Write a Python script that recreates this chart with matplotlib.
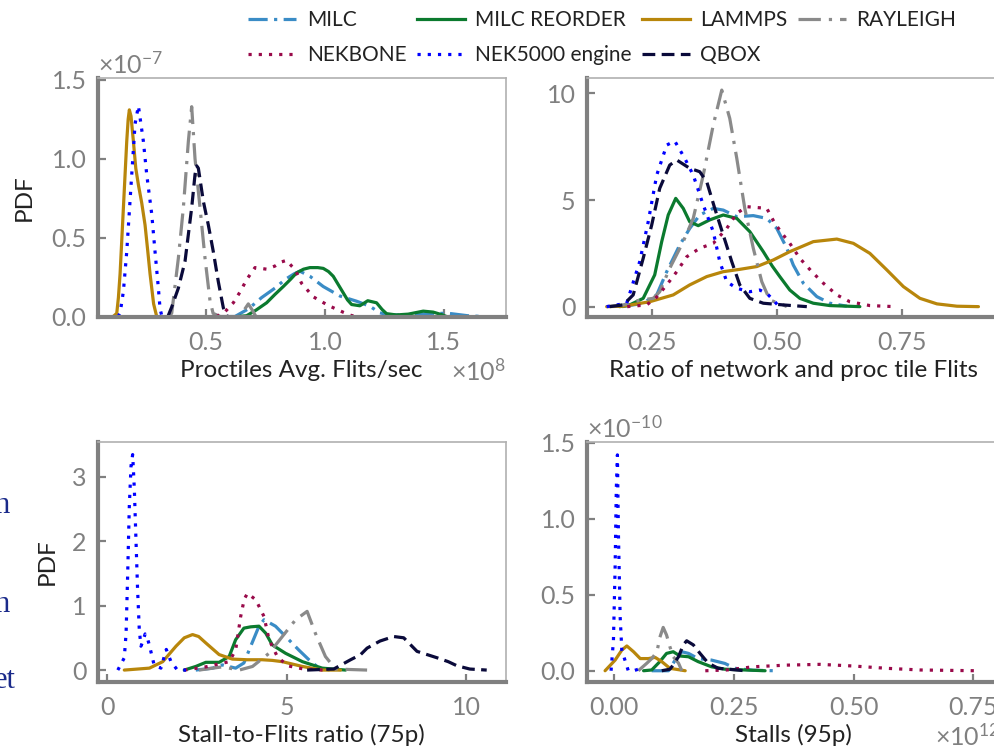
import matplotlib
matplotlib.use("Agg")
import matplotlib.pyplot as plt
from matplotlib.ticker import ScalarFormatter
from matplotlib.lines import Line2D

plt.rcParams['font.family'] = ['Lato', 'DejaVu Sans']
plt.rcParams['mathtext.fontset'] = 'custom'
plt.rcParams['mathtext.rm'] = 'Lato'
plt.rcParams['mathtext.it'] = 'Lato'
plt.rcParams['mathtext.default'] = 'regular'

# ---------------- series names & styles ----------------
series = ["MILC", "MILC REORDER", "LAMMPS", "RAYLEIGH", "NEKBONE", "NEK5000 engine", "QBOX"]
colors = {"MILC": "#3a8cc6", "MILC REORDER": "#0b7a2e", "LAMMPS": "#b8860b",
          "RAYLEIGH": "#8a8a8a", "NEKBONE": "#990a4a", "NEK5000 engine": "#0000ff",
          "QBOX": "#0a0a3a"}
styles = {"MILC": (0, (6, 2, 1, 2)), "MILC REORDER": "-", "LAMMPS": "-",
          "RAYLEIGH": (0, (7, 2.5, 1, 2.5)), "NEKBONE": (0, (1, 2.2)),
          "NEK5000 engine": (0, (1, 2.2)), "QBOX": (0, (4, 2))}

# ---------------- panel 1: Proctiles Avg. Flits/sec (x in 1e8, y in 1e-7) ----------------
p1_milc_x = [0.60, 0.622, 0.68, 0.734, 0.79, 0.832, 0.87, 0.895, 0.937, 0.993, 1.063, 1.133, 1.189, 1.231, 1.273, 1.35, 1.45, 1.52, 1.6, 1.66]
p1_milc_y = [0, 0.0, 0.05, 0.12, 0.18, 0.234, 0.27, 0.287, 0.255, 0.19, 0.13, 0.097, 0.065, 0.023, 0.01, 0.01, 0.02, 0.02, 0.005, 0]
p1_reorder_x = [0.636, 0.671, 0.71, 0.755, 0.79, 0.825, 0.855, 0.881, 0.91, 0.937, 0.97, 0.993, 1.015, 1.035, 1.055, 1.077, 1.095, 1.112, 1.147, 1.18, 1.217, 1.24, 1.259, 1.3, 1.35, 1.413, 1.455, 1.49, 1.511]
p1_reorder_y = [0, 0.005, 0.04, 0.087, 0.14, 0.19, 0.235, 0.277, 0.30, 0.31, 0.31, 0.305, 0.285, 0.255, 0.205, 0.15, 0.105, 0.076, 0.068, 0.10, 0.087, 0.045, 0.018, 0.01, 0.015, 0.034, 0.028, 0.012, 0]
p1_lammps_x = [0.11, 0.125, 0.132, 0.139, 0.153, 0.167, 0.173, 0.178, 0.185, 0.195, 0.205, 0.216, 0.23, 0.244, 0.255, 0.265, 0.28, 0.293]
p1_lammps_y = [0, 0.02, 0.12, 0.27, 0.69, 1.11, 1.25, 1.31, 1.27, 1.11, 0.94, 0.835, 0.72, 0.58, 0.42, 0.27, 0.08, 0]
p1_rayleigh_x = [0.34, 0.356, 0.384, 0.405, 0.426, 0.44, 0.454, 0.475, 0.496, 0.517, 0.53, 0.56, 0.6, 0.643, 0.66, 0.678, 0.695, 0.71]
p1_rayleigh_y = [0, 0.02, 0.37, 0.69, 1.11, 1.33, 1.0, 0.69, 0.37, 0.1, 0.02, 0, 0, 0, 0.04, 0.08, 0.04, 0]
p1_nekbone_x = [0.545, 0.58, 0.615, 0.645, 0.671, 0.706, 0.73, 0.755, 0.79, 0.815, 0.839, 0.86, 0.874, 0.902, 0.951, 1.014, 1.077, 1.112, 1.14]
p1_nekbone_y = [0, 0.03, 0.087, 0.16, 0.234, 0.31, 0.305, 0.30, 0.32, 0.345, 0.356, 0.32, 0.30, 0.21, 0.125, 0.07, 0.027, 0.006, 0]
p1_nek5000_x = [0.13, 0.139, 0.153, 0.167, 0.188, 0.202, 0.216, 0.237, 0.251, 0.272, 0.286, 0.3, 0.307, 0.315]
p1_nek5000_y = [0, 0.02, 0.16, 0.41, 0.9, 1.22, 1.335, 1.11, 0.9, 0.65, 0.41, 0.18, 0.05, 0]
p1_qbox_x = [0.34, 0.356, 0.384, 0.412, 0.44, 0.454, 0.461, 0.468, 0.489, 0.51, 0.531, 0.552, 0.573, 0.59]
p1_qbox_y = [0, 0.06, 0.18, 0.35, 0.69, 0.9, 0.955, 0.94, 0.73, 0.58, 0.41, 0.22, 0.055, 0]

# ---------------- panel 2: Ratio of network and proc tile Flits ----------------
p2_milc_x = [0.19, 0.23, 0.259, 0.279, 0.305, 0.325, 0.345, 0.372, 0.392, 0.419, 0.452, 0.479, 0.499, 0.519, 0.532, 0.552, 0.579, 0.605, 0.639]
p2_milc_y = [0, 0.15, 0.55, 1.64, 2.89, 3.67, 4.3, 4.61, 4.53, 4.22, 4.27, 4.14, 3.67, 2.74, 1.95, 1.1, 0.47, 0.16, 0.02]
p2_reorder_x = [0.185, 0.205, 0.232, 0.255, 0.269, 0.282, 0.297, 0.312, 0.325, 0.342, 0.365, 0.392, 0.419, 0.445, 0.472, 0.49, 0.505, 0.525, 0.545, 0.572, 0.605, 0.665]
p2_reorder_y = [0, 0.08, 0.39, 1.49, 3.05, 4.3, 5.08, 4.61, 3.98, 3.8, 4.07, 4.3, 4.14, 3.52, 2.58, 1.9, 1.41, 0.78, 0.39, 0.16, 0.05, 0]
p2_lammps_x = [0.159, 0.192, 0.245, 0.292, 0.325, 0.359, 0.392, 0.425, 0.459, 0.492, 0.525, 0.572, 0.619, 0.652, 0.685, 0.719, 0.752, 0.785, 0.819, 0.859, 0.902]
p2_lammps_y = [0, 0.02, 0.23, 0.55, 1.02, 1.41, 1.64, 1.75, 1.88, 2.19, 2.58, 3.05, 3.17, 2.97, 2.5, 1.72, 0.94, 0.39, 0.13, 0.02, 0]
p2_rayleigh_x = [0.159, 0.192, 0.225, 0.252, 0.265, 0.285, 0.312, 0.332, 0.352, 0.372, 0.389, 0.405, 0.419, 0.435, 0.452, 0.469, 0.485, 0.512, 0.519]
p2_rayleigh_y = [0, 0.08, 0.3, 0.39, 0.7, 1.8, 3.05, 4.14, 6.17, 8.52, 10.16, 8.83, 6.96, 4.61, 2.74, 1.17, 0.31, 0.08, 0]
p2_nekbone_x = [0.2, 0.239, 0.259, 0.279, 0.299, 0.319, 0.345, 0.372, 0.399, 0.419, 0.439, 0.459, 0.479, 0.495, 0.512, 0.525, 0.545, 0.569, 0.592, 0.619, 0.645, 0.685, 0.735]
p2_nekbone_y = [0, 0.08, 0.45, 1.02, 1.64, 2.34, 2.74, 2.97, 3.67, 4.38, 4.69, 4.65, 4.61, 3.91, 3.36, 2.97, 2.27, 1.64, 1.1, 0.55, 0.23, 0.05, 0]
p2_nek5000_x = [0.159, 0.199, 0.225, 0.242, 0.259, 0.279, 0.295, 0.315, 0.332, 0.352, 0.372, 0.385, 0.399, 0.419, 0.445, 0.465, 0.48, 0.492, 0.5]
p2_nek5000_y = [0, 0.16, 2.11, 3.98, 6.17, 7.58, 7.77, 6.96, 6.17, 4.77, 3.52, 2.11, 1.17, 0.86, 0.7, 0.78, 0.6, 0.31, 0.1]
p2_qbox_x = [0.165, 0.192, 0.212, 0.232, 0.249, 0.265, 0.285, 0.299, 0.325, 0.345, 0.359, 0.375, 0.392, 0.409, 0.425, 0.445, 0.472, 0.512, 0.559]
p2_qbox_y = [0, 0.08, 0.55, 2.27, 3.83, 5.55, 6.64, 6.88, 6.49, 6.33, 5.86, 4.61, 3.36, 2.11, 1.02, 0.39, 0.16, 0.08, 0]

# ---------------- panel 3: Stall-to-Flits ratio (75p) ----------------
p3_milc_x = [2.47, 2.94, 3.21, 3.58, 3.81, 4.0, 4.23, 4.37, 4.69, 5.06, 5.34, 5.62, 5.9, 6.2]
p3_milc_y = [0, 0.03, 0.08, 0.03, 0.11, 0.37, 0.68, 0.78, 0.68, 0.47, 0.31, 0.16, 0.03, 0]
p3_reorder_x = [2.15, 2.47, 2.75, 3.12, 3.4, 3.58, 3.81, 4.0, 4.23, 4.42, 4.6, 4.97, 5.44, 5.99, 6.64]
p3_reorder_y = [0, 0.056, 0.12, 0.12, 0.21, 0.47, 0.65, 0.67, 0.68, 0.57, 0.39, 0.26, 0.13, 0.03, 0]
p3_lammps_x = [0.48, 1.18, 1.55, 1.92, 2.15, 2.38, 2.55, 2.75, 3.12, 3.49, 3.9, 4.32, 4.6, 4.88, 5.44, 5.99, 6.5]
p3_lammps_y = [0, 0.03, 0.13, 0.37, 0.5, 0.55, 0.52, 0.42, 0.24, 0.17, 0.16, 0.16, 0.15, 0.13, 0.056, 0.0, 0]
p3_rayleigh_x = [2.56, 3.21, 3.68, 4.05, 4.51, 4.88, 5.25, 5.57, 5.8, 6.08, 6.36, 7.24]
p3_rayleigh_y = [0, 0.05, 0.0, 0.056, 0.26, 0.52, 0.78, 0.91, 0.57, 0.21, 0.016, 0]
p3_nekbone_x = [2.15, 2.75, 3.4, 3.58, 3.72, 3.82, 3.91, 4.14, 4.37, 4.51, 4.74, 5.02, 5.44, 6.0]
p3_nekbone_y = [0, 0.05, 0.13, 0.31, 0.83, 1.1, 1.19, 1.09, 0.83, 0.47, 0.21, 0.067, 0.02, 0]
p3_nek5000_x = [0.3, 0.48, 0.53, 0.575, 0.62, 0.667, 0.713, 0.76, 0.805, 0.85, 0.898, 0.944, 1.0, 1.06, 1.12, 1.176, 1.31, 1.5, 1.65, 1.78, 1.96, 2.2]
p3_nek5000_y = [0, 0.19, 0.57, 1.5, 2.54, 3.16, 3.34, 2.8, 2.02, 1.25, 0.62, 0.37, 0.45, 0.56, 0.5, 0.39, 0.08, 0.03, 0.32, 0.13, 0, 0]
p3_qbox_x = [5.57, 6.31, 6.78, 7.06, 7.24, 7.6, 7.98, 8.26, 8.63, 9.19, 9.5, 9.74, 10.1, 10.57]
p3_qbox_y = [0, 0.016, 0.16, 0.24, 0.34, 0.45, 0.52, 0.5, 0.29, 0.19, 0.13, 0.067, 0.016, 0]

# ---------------- panel 4: Stalls (95p) (x in 1e12, y in 1e-10) ----------------
p4_milc_x = [0.078, 0.113, 0.127, 0.141, 0.155, 0.175, 0.203, 0.231, 0.252, 0.29, 0.336]
p4_milc_y = [0, 0.0, 0.07, 0.125, 0.114, 0.08, 0.07, 0.048, 0.016, 0.003, 0]
p4_reorder_x = [0.061, 0.078, 0.095, 0.109, 0.123, 0.137, 0.155, 0.175, 0.203, 0.231, 0.315]
p4_reorder_y = [0, 0.005, 0.06, 0.114, 0.125, 0.097, 0.092, 0.06, 0.026, 0.01, 0]
p4_lammps_x = [-0.0195, 0.0015, 0.0155, 0.026, 0.04, 0.054, 0.071, 0.085, 0.099, 0.116, 0.148]
p4_lammps_y = [0, 0.07, 0.136, 0.163, 0.125, 0.08, 0.08, 0.088, 0.06, 0.016, 0]
p4_rayleigh_x = [0.05, 0.068, 0.078, 0.089, 0.095, 0.102, 0.109, 0.116, 0.123, 0.134, 0.141]
p4_rayleigh_y = [0, 0.05, 0.08, 0.125, 0.22, 0.285, 0.235, 0.158, 0.092, 0.05, 0]
p4_nekbone_x = [0.19, 0.235, 0.29, 0.36, 0.43, 0.5, 0.569, 0.639, 0.757]
p4_nekbone_y = [0, 0.005, 0.026, 0.037, 0.042, 0.031, 0.016, 0.005, 0]
p4_nek5000_x = [-0.007, -0.002, 0.0015, 0.004, 0.0063, 0.0084, 0.012, 0.0155, 0.022, 0.029, 0.04, 0.05, 0.06]
p4_nek5000_y = [0, 0.2, 0.68, 1.2, 1.42, 0.9, 0.355, 0.136, 0.07, 0.0, 0.0, 0.01, 0]
p4_qbox_x = [0.099, 0.116, 0.12, 0.134, 0.144, 0.151, 0.165, 0.179, 0.196, 0.217, 0.273]
p4_qbox_y = [0, 0.01, 0.026, 0.092, 0.17, 0.197, 0.17, 0.114, 0.05, 0.016, 0]

x_labels = ["Proctiles Avg. Flits/sec", "Ratio of network and proc tile Flits",
            "Stall-to-Flits ratio (75p)", "Stalls (95p)"]
x_orders = [8, 0, 0, 12]
y_orders = [-7, 0, 0, -10]
x_formats = ["%1.1f", "%1.2f", "%d", "%1.2f"]
y_formats = ["%1.1f", "%d", "%d", "%1.1f"]
x_ticks = [[0.5, 1.0, 1.5], [0.25, 0.50, 0.75], [0, 5, 10], [0.00, 0.25, 0.50, 0.75]]
y_ticks = [[0.0, 0.5, 1.0, 1.5], [0, 5, 10], [0, 1, 2, 3], [0.0, 0.5, 1.0, 1.5]]
x_lims = [(0.045, 1.76), (0.119, 0.945), (-0.26, 11.1), (-0.058, 0.806)]
y_lims = [(-0.005, 1.515), (-0.5, 10.75), (-0.18, 3.54), (-0.072, 1.507)]

panels = [
    {"MILC": (p1_milc_x, p1_milc_y), "MILC REORDER": (p1_reorder_x, p1_reorder_y),
     "LAMMPS": (p1_lammps_x, p1_lammps_y), "RAYLEIGH": (p1_rayleigh_x, p1_rayleigh_y),
     "NEKBONE": (p1_nekbone_x, p1_nekbone_y), "NEK5000 engine": (p1_nek5000_x, p1_nek5000_y),
     "QBOX": (p1_qbox_x, p1_qbox_y)},
    {"MILC": (p2_milc_x, p2_milc_y), "MILC REORDER": (p2_reorder_x, p2_reorder_y),
     "LAMMPS": (p2_lammps_x, p2_lammps_y), "RAYLEIGH": (p2_rayleigh_x, p2_rayleigh_y),
     "NEKBONE": (p2_nekbone_x, p2_nekbone_y), "NEK5000 engine": (p2_nek5000_x, p2_nek5000_y),
     "QBOX": (p2_qbox_x, p2_qbox_y)},
    {"MILC": (p3_milc_x, p3_milc_y), "MILC REORDER": (p3_reorder_x, p3_reorder_y),
     "LAMMPS": (p3_lammps_x, p3_lammps_y), "RAYLEIGH": (p3_rayleigh_x, p3_rayleigh_y),
     "NEKBONE": (p3_nekbone_x, p3_nekbone_y), "NEK5000 engine": (p3_nek5000_x, p3_nek5000_y),
     "QBOX": (p3_qbox_x, p3_qbox_y)},
    {"MILC": (p4_milc_x, p4_milc_y), "MILC REORDER": (p4_reorder_x, p4_reorder_y),
     "LAMMPS": (p4_lammps_x, p4_lammps_y), "RAYLEIGH": (p4_rayleigh_x, p4_rayleigh_y),
     "NEKBONE": (p4_nekbone_x, p4_nekbone_y), "NEK5000 engine": (p4_nek5000_x, p4_nek5000_y),
     "QBOX": (p4_qbox_x, p4_qbox_y)},
]

positions = [[0.0983, 0.5775, 0.4105, 0.3193], [0.5902, 0.5775, 0.4158, 0.3193],
             [0.0983, 0.0923, 0.4105, 0.3196], [0.5902, 0.0923, 0.4158, 0.3196]]
ylabel_x = [-0.154, None, -0.097, None]


class FixedOrderFormatter(ScalarFormatter):
    def __init__(self, order, fmt):
        super().__init__(useMathText=True, useOffset=False)
        self._fixed_order = order
        self._fixed_fmt = fmt

    def _set_order_of_magnitude(self):
        self.orderOfMagnitude = self._fixed_order

    def _set_format(self):
        self.format = self._fixed_fmt


GREY = "#808080"
DARK = "#222222"
fig = plt.figure(figsize=(9.94, 7.51), dpi=100)

for i, data in enumerate(panels):
    ax = fig.add_axes(positions[i])
    xs, ys = 10.0 ** x_orders[i], 10.0 ** y_orders[i]
    for name in series:
        x, y = data[name]
        ax.plot([v * xs for v in x], [v * ys for v in y], color=colors[name],
                linestyle=styles[name], lw=2.3, label=name, solid_capstyle='round')
    ax.set_xlim(x_lims[i][0] * xs, x_lims[i][1] * xs)
    ax.set_ylim(y_lims[i][0] * ys, y_lims[i][1] * ys)
    ax.set_xticks([t * xs for t in x_ticks[i]])
    ax.set_yticks([t * ys for t in y_ticks[i]])
    ax.xaxis.set_major_formatter(FixedOrderFormatter(x_orders[i], x_formats[i]))
    ax.yaxis.set_major_formatter(FixedOrderFormatter(y_orders[i], y_formats[i]))
    for side in ("left", "bottom"):
        ax.spines[side].set_linewidth(3.0)
        ax.spines[side].set_color(GREY)
    for side in ("top", "right"):
        ax.spines[side].set_linewidth(1.2)
        ax.spines[side].set_color("#b0b0b0")
    ax.tick_params(direction='in', length=6, width=1.6, color=GREY, labelcolor=GREY,
                   labelsize=18, top=False, right=False)
    ax.tick_params(axis='x', pad=10)
    ax.tick_params(axis='y', pad=8)
    for t in (ax.xaxis.get_offset_text(), ax.yaxis.get_offset_text()):
        t.set_color(GREY)
        t.set_fontsize(18)
    ax.set_xlabel(x_labels[i], fontsize=17.5, color=DARK, labelpad=4)
    if ylabel_x[i] is not None:
        ax.set_ylabel("PDF", fontsize=17.5, color=DARK)
        ax.yaxis.set_label_coords(ylabel_x[i], 0.5)

legend_order = ["MILC", "NEKBONE", "MILC REORDER", "NEK5000 engine", "LAMMPS", "QBOX", "RAYLEIGH"]
handles = [Line2D([0], [0], color=colors[n], linestyle=styles[n], lw=2.3) for n in legend_order]
fig.legend(handles, legend_order, loc="upper center", bbox_to_anchor=(0.606, 1.011),
           ncol=4, frameon=False, fontsize=15, handlelength=2.3, handletextpad=0.5,
           columnspacing=0.5, labelspacing=0.7, labelcolor=DARK)

# fragments of the surrounding page text at the left edge
for txt, xpx, ypx in [("n", 10, 513), ("n", 10, 612), ("et", 16, 688)]:
    fig.text(xpx / 994, 1 - ypx / 751, txt, ha="right", va="baseline",
             fontsize=22, color="#1a2a8a", family=["Liberation Serif", "DejaVu Serif"])

fig.savefig("out.png", dpi=100)
